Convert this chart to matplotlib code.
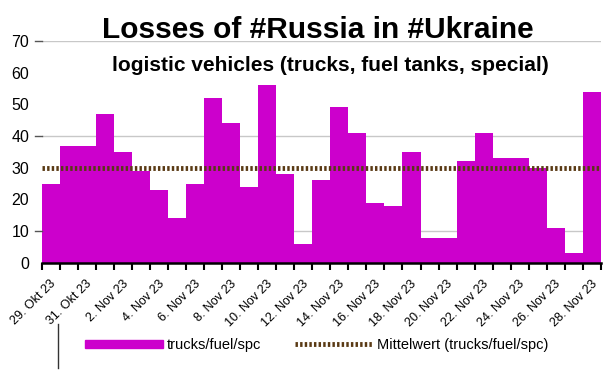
import matplotlib.pyplot as plt
import matplotlib.transforms as mtransforms
from matplotlib.lines import Line2D
from matplotlib.patches import Patch

plt.rcParams['font.family'] = ['Liberation Sans', 'DejaVu Sans']

# one value per day, 29 Okt 23 .. 28 Nov 23
days = ['29. Okt 23', '30. Okt 23', '31. Okt 23'] + ['%d. Nov 23' % d for d in range(1, 29)]
losses = [25, 37, 37, 47, 35, 29, 23, 14, 25, 52, 44, 24, 56, 28, 6, 26,
          49, 41, 19, 18, 35, 8, 8, 32, 41, 33, 33, 30, 11, 3, 54]
mean_val = sum(losses) / len(losses)

purple = '#cc00cc'
brown = '#5a3a14'

fig = plt.figure(figsize=(6.15, 3.75), dpi=100)
ax = fig.add_axes([0.068, 0.299, 0.909, 0.592])

x = list(range(len(losses)))
ax.bar(x, losses, width=1, align='edge', color=purple, linewidth=0, zorder=2)
ax.plot([0, len(losses)], [mean_val, mean_val], color=brown, lw=3.5,
        linestyle=(0, (0.5, 0.45)), zorder=3)

ax.set_xlim(0, len(losses))
ax.set_ylim(0, 70)
ax.set_yticks(range(0, 71, 10))
ax.tick_params(axis='y', length=0, labelsize=11.5, pad=9)
for g in (10, 40, 70):
    ax.axhline(g, color='#c8c8c8', lw=1, zorder=1)
    ax.plot([-0.38, 0], [g, g], color='#555555', lw=1, clip_on=False)

ax.set_xticks(range(len(losses) + 1))
labels = [days[i] if i % 2 == 0 and i < len(days) else '' for i in range(len(losses) + 1)]
ax.set_xticklabels(labels, rotation=45, ha='right', va='top', rotation_mode='anchor', fontsize=9)
ax.tick_params(axis='x', length=5, width=1.5, pad=3)
offset = mtransforms.ScaledTranslation(8 / 100, -4 / 100, fig.dpi_scale_trans)
for lab in ax.get_xticklabels():
    lab.set_transform(lab.get_transform() + offset)

for s in ('top', 'right', 'left'):
    ax.spines[s].set_visible(False)
ax.spines['bottom'].set_linewidth(1.8)

fig.text(0.517, 0.921, 'Losses of #Russia in #Ukraine', ha='center', va='center',
         fontsize=21.5, fontweight='bold')
fig.text(0.538, 0.825, 'logistic vehicles (trucks, fuel tanks, special)', ha='center',
         va='center', fontsize=15, fontweight='bold')

handles = [Patch(color=purple, label='trucks/fuel/spc'),
           Line2D([0], [0], color=brown, lw=3.5, linestyle=(0, (0.5, 0.45)),
                  label='Mittelwert (trucks/fuel/spc)')]
fig.legend(handles=handles, loc='center', bbox_to_anchor=(0.515, 0.08), ncol=2,
           frameon=False, fontsize=10.5, handlelength=5.3, handleheight=0.5,
           columnspacing=2.3, handletextpad=0.3)

fig.add_artist(Line2D([0.094, 0.094], [0.019, 0.136], color='#333333', lw=1))

fig.savefig('out.png', dpi=100)
